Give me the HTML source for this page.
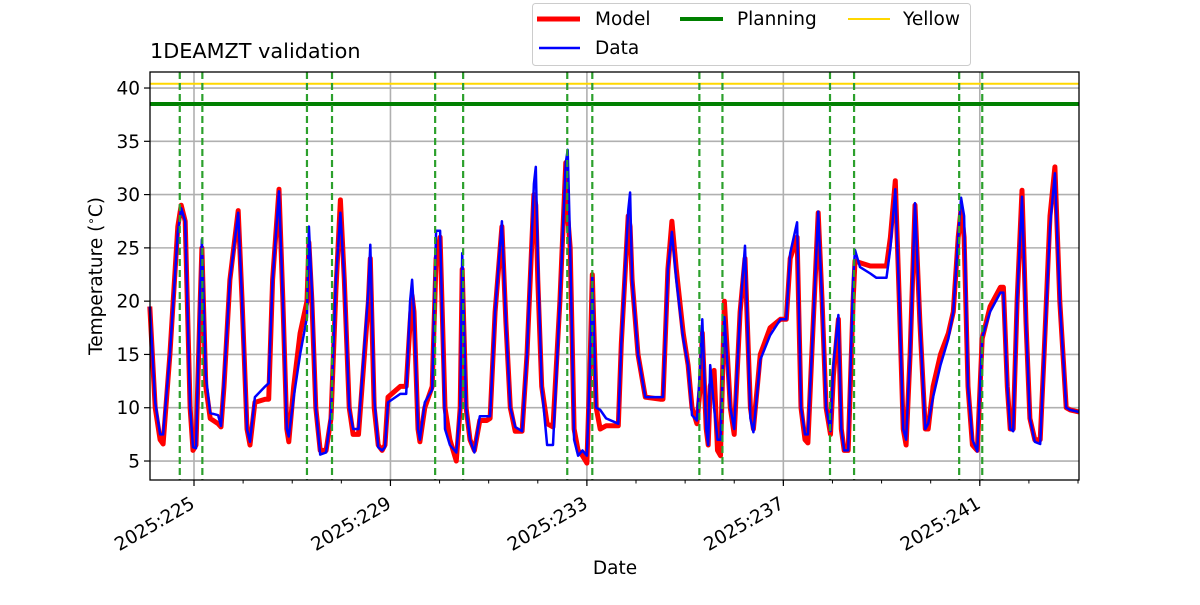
<!DOCTYPE html>
<html><head><meta charset="utf-8"><style>
body{margin:0;background:#fff;}
svg{font-family:"DejaVu Sans","Liberation Sans",sans-serif;}
</style></head><body>
<svg id="chart" width="1200" height="600" viewBox="0 0 1200 600" xmlns="http://www.w3.org/2000/svg">
<g id="grid"></g>
<g id="plot"></g>
<g id="axes"></g>
<text x="150" y="58" font-size="20.8">1DEAMZT validation</text>
<text x="615" y="574" font-size="18.5" text-anchor="middle">Date</text>
<text x="0" y="0" font-size="18.5" text-anchor="middle" transform="translate(102,276) rotate(-90)">Temperature (<tspan font-size="12" dy="-7">∘</tspan><tspan dy="7">C)</tspan></text>
<g>
<rect x="532.5" y="3.5" width="438" height="62" rx="3" fill="#fff" fill-opacity="0.85" stroke="#ccc"/>
<line x1="537" y1="19" x2="580" y2="19" stroke="#ff0000" stroke-width="5"/>
<text x="595" y="25" font-size="18.5">Model</text>
<line x1="539" y1="48" x2="580" y2="48" stroke="#0000ff" stroke-width="2.5"/>
<text x="595" y="54" font-size="18.5">Data</text>
<line x1="680" y1="19" x2="723" y2="19" stroke="#008000" stroke-width="4"/>
<text x="737" y="25" font-size="18.5">Planning</text>
<line x1="848" y1="19" x2="890" y2="19" stroke="#ffd700" stroke-width="2"/>
<text x="903" y="25" font-size="18.5">Yellow</text>
</g>
</svg>
<script>
const days=[224.10,224.21,224.31,224.37,224.51,224.67,224.74,224.82,224.92,224.98,225.04,225.12,225.16,225.24,225.33,225.49,225.55,225.61,225.73,225.90,225.98,226.08,226.14,226.24,226.45,226.52,226.60,226.73,226.81,226.89,226.93,227.03,227.16,227.30,227.34,227.40,227.48,227.57,227.69,227.79,227.89,227.98,228.06,228.16,228.24,228.35,228.55,228.59,228.67,228.75,228.83,228.89,228.95,229.20,229.32,229.40,229.44,229.48,229.56,229.60,229.70,229.85,229.93,230.01,230.11,230.21,230.34,230.42,230.46,230.54,230.62,230.71,230.82,230.96,231.03,231.13,231.27,231.35,231.44,231.54,231.68,231.78,231.92,231.96,232.00,232.08,232.19,232.31,232.45,232.57,232.61,232.66,232.74,232.82,232.91,233.00,233.07,233.11,233.19,233.27,233.39,233.64,233.70,233.84,233.88,233.92,234.04,234.19,234.49,234.55,234.65,234.73,234.82,234.96,235.06,235.14,235.24,235.31,235.35,235.43,235.47,235.51,235.59,235.66,235.72,235.80,235.92,236.00,236.12,236.22,236.33,236.39,236.53,236.73,236.94,237.06,237.14,237.28,237.36,237.44,237.50,237.58,237.71,237.79,237.87,237.96,238.02,238.12,238.18,238.24,238.32,238.42,238.46,238.56,238.77,238.89,239.10,239.18,239.28,239.36,239.44,239.50,239.58,239.68,239.78,239.89,239.95,240.05,240.20,240.36,240.46,240.56,240.62,240.68,240.76,240.85,240.95,241.05,241.21,241.42,241.48,241.56,241.62,241.68,241.76,241.86,241.94,242.02,242.12,242.23,242.31,242.43,242.53,242.63,242.76,242.84,243.02];
const model=[19.5,10,7,6.6,15,27,29,27.5,10,6,6.5,19,25,12,9,8.5,8.2,12,22,28.5,20,8,6.5,10.5,10.8,10.8,22,30.5,20,8,6.8,12,17,20,25.5,20,10,6,6,9,21,29.5,22,10,7.5,7.5,20,24,10,6.5,6,6.5,11,12,12,18,20.5,19,8,6.8,10,12,24,26,10,7,5,10,23,10,7,6,8.8,8.8,9,19,27,18,10,7.8,7.8,15,30,29,22,12,8.5,8.2,20,33,28,25,8,6,5.5,4.8,15,22.5,10,8,8.3,8.3,16,28,27,22,15,11,10.8,10.8,23,27.5,23,17,14,10,8.5,12,17,8,6.5,12,13.5,6,5.5,20,10,7.5,19,24,10,8,15,17.5,18.3,18.3,24,26,10,7,6.7,15,28.3,20,10,7.5,13,18.3,8,6,6,20,23.8,23.6,23.3,23.3,23.3,26,31.3,20,8,6.5,15,29,18,8,8,12,15,17,19,26,28.7,26,12,6.5,6,16.5,19.5,21.3,21.3,12,8,8,20,30.4,18,9,7,7,15,28,32.6,20,10,9.8,9.6];
const data=[19.5,10.5,7.5,7.5,15,26.5,28.7,27.5,10,6.3,6.2,20,25.8,13,9.5,9.3,8.3,12.5,22,28.3,20,8,6.8,11,12,12.3,22,30.3,20,8,7.3,11,15,18.5,27,21,10,5.6,5.8,9.5,22,28.3,22,10,8,8,21,25.3,11,6.3,6,6.3,10.5,11.3,11.3,20,22,19,8,7,10.5,11.7,26.6,26.6,8,6.5,5.8,10,24.5,10,7,5.8,9.2,9.2,9.2,19,27.5,18,10,8.2,7.8,15,31,32.6,24,12,6.5,6.5,20,33,34.2,25,7,5.5,6,5.5,15,22.3,10,9.8,9,8.5,16,28.5,30.2,22,15,11,11,11,23,26.5,22,16.5,14,9.3,8.8,14,18.3,8,6.5,14,10,7,7,18.5,10,8,19,25.2,9,7.7,14.5,16.8,18.3,18.3,24.5,27.4,10,7.5,7.5,15,28.4,20,10,7.8,14,18.7,8,6,6,22,24.8,23.2,22.6,22.2,22.2,25,30.5,20,8,7,15,29.2,18,8,8.5,11,14,16.5,19,26,29.7,28,12,7,5.9,16.6,19,20.8,20.8,12,8,7.8,20,29.8,18,9,6.8,6.6,15,27,32,20,10,9.8,9.6];
const yTicks=[5,10,15,20,25,30,35,40];
const xTickDays=[225,229,233,237,241];
const xTickLabels=["2025:225","2025:229","2025:233","2025:237","2025:241"];
const planningDays=[224.71,225.17,227.30,227.81,229.91,230.48,232.60,233.11,235.29,235.76,237.95,238.44,240.58,241.05];
const planningLevel=[38.5];
const yellowLevel=[40.4];
const L=150,R=1079,T=72,B=480,D0=224.104,D1=243.02;
const X=d=>L+(d-D0)*(R-L)/(D1-D0);
const Y=v=>514.3-10.657*v;
const NS="http://www.w3.org/2000/svg";
function mk(parent,tag,attrs){const e=document.createElementNS(NS,tag);for(const k in attrs)e.setAttribute(k,attrs[k]);document.getElementById(parent).appendChild(e);return e;}
yTicks.forEach(v=>{const e=mk('grid','line',{x1:L,x2:R,y1:Y(v),y2:Y(v),stroke:'#b0b0b0','stroke-width':1.6});


const t=mk('axes','line',{x1:L-6,x2:L,y1:Y(v),y2:Y(v),stroke:'#000','stroke-width':1.2});


const tx=mk('axes','text',{x:L-10,y:Y(v)+6.5,'font-size':18.5,'text-anchor':'end'});tx.textContent=v;

});
xTickDays.forEach((d,i)=>{const e=mk('grid','line',{x1:X(d),x2:X(d),y1:T,y2:B,stroke:'#b0b0b0','stroke-width':1.6});


const t=mk('axes','line',{x1:X(d),x2:X(d),y1:B,y2:B+6,stroke:'#000','stroke-width':1.2});


const tx=mk('axes','text',{x:0,y:0,'font-size':18.5,'text-anchor':'end',transform:`translate(${X(d)+2},${B+27}) rotate(-30)`});tx.textContent=xTickLabels[i];

});
for(let d=225;d<=243;d++){if(X(d)>R)break;const t=mk('axes','line',{x1:X(d),x2:X(d),y1:B,y2:B+3.5,stroke:'#000','stroke-width':1});

}
const pl=mk('plot','line',{x1:L,x2:R,y1:Y(planningLevel[0]),y2:Y(planningLevel[0]),stroke:'#008000','stroke-width':4});


const yl=mk('plot','line',{x1:L,x2:R,y1:Y(yellowLevel[0]),y2:Y(yellowLevel[0]),stroke:'#ffd700','stroke-width':2});


const pts=a=>days.map((d,i)=>X(d).toFixed(1)+','+Y(a[i]).toFixed(1)).join(' ');
const m=mk('plot','polyline',{points:pts(model),fill:'none',stroke:'#ff0000','stroke-width':5,'stroke-linejoin':'round'});


const dl=mk('plot','polyline',{points:pts(data),fill:'none',stroke:'#0000ff','stroke-width':2.5,'stroke-linejoin':'round'});


planningDays.forEach(d=>{const e=mk('plot','line',{x1:X(d),x2:X(d),y1:T,y2:B,stroke:'#2ca02c','stroke-width':2.2,'stroke-dasharray':'7,4'});

});
const fr=mk('axes','rect',{x:L,y:T,width:R-L,height:B-T,fill:'none',stroke:'#000','stroke-width':1.3});


</script>
</body></html>
